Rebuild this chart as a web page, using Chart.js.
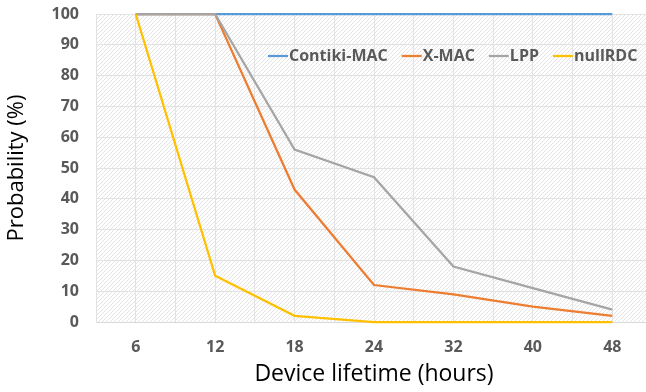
<!DOCTYPE html>
<html>
<head>
<meta charset="utf-8">
<script src="https://cdn.jsdelivr.net/npm/chart.js@4"></script>
<style>
  body { margin:0; background:#fff; overflow:hidden; }
  #wrap { width:660px; height:392px; }
</style>
</head>
<body>
<div id="wrap"><canvas id="chart" width="660" height="392"></canvas></div>
<script>
// data
const lifetimes = ["6","12","18","24","32","40","48"];
const contikiMac = [100,100,100,100,100,100,100];
const xMac = [100,100,43,12,9,5,2];
const lpp = [100,100,56,47,18,11,4];
const nullRdc = [100,15,2,0,0,0,0];
const seriesNames = ["Contiki-MAC","X-MAC","LPP","nullRDC"];
const seriesColors = ["#5B9BD5","#ED7D31","#A5A5A5","#FFC000"];

const FONT = "'Open Sans', 'Liberation Sans', sans-serif";

// light diagonal hatch like the excel plot area
function makeHatch(ctx) {
  const c = document.createElement("canvas");
  c.width = 4; c.height = 4;
  const p = c.getContext("2d");
  p.fillStyle = "#ffffff"; p.fillRect(0,0,4,4);
  p.strokeStyle = "#e4e4e4"; p.lineWidth = 1;
  p.beginPath(); p.moveTo(0,4); p.lineTo(4,0); p.stroke();
  return ctx.createPattern(c, "repeat");
}

const hatchBg = {
  id: "hatchBg",
  beforeDraw(chart) {
    const {ctx, chartArea:a} = chart;
    ctx.save();
    ctx.fillStyle = makeHatch(ctx);
    ctx.fillRect(a.left, a.top, a.right-a.left, a.bottom-a.top);
    ctx.restore();
  }
};

// legend sits inside the plot, top right
const innerLegend = {
  id: "innerLegend",
  afterDraw(chart) {
    const ctx = chart.ctx;
    let x = 268, y = 56;
    ctx.save();
    ctx.font = "bold 16px " + FONT;
    ctx.textBaseline = "middle";
    chart.data.datasets.forEach(ds => {
      ctx.strokeStyle = ds.borderColor; ctx.lineWidth = 2.25;
      ctx.beginPath(); ctx.moveTo(x, y); ctx.lineTo(x+20, y); ctx.stroke();
      ctx.fillStyle = "#595959";
      ctx.fillText(ds.label, x+21, y);
      x += 21 + ctx.measureText(ds.label).width + 14;
    });
    ctx.restore();
  }
};

const allSeries = [contikiMac, xMac, lpp, nullRdc];

new Chart(document.getElementById("chart"), {
  type: "line",
  data: {
    labels: lifetimes,
    datasets: allSeries.map((vals,i)=>({
      label: seriesNames[i],
      data: vals,
      borderColor: seriesColors[i],
      backgroundColor: seriesColors[i],
      borderWidth: 2.25,
      pointRadius: 0,
      tension: 0,
      clip: 4,
      order: allSeries.length - i, // later series drawn on top, like excel
      xAxisID: "x"
    }))
  },
  options: {
    responsive: false,
    animation: false,
    layout: { padding: { top: 14, right: 8, left: 0, bottom: 0 } },
    plugins: { legend: { display: false }, tooltip: { enabled: false } },
    scales: {
      x: {
        type: "category",
        offset: true,
        grid: { offset: true, color: "#e3e3e3", drawTicks: false },
        border: { color: "#d9d9d9" },
        ticks: { color: "#595959", padding: 16, font: { family: FONT, size: 16, weight: "bold" } },
        title: { display: true, text: "Device lifetime (hours)", color: "#000", font: { family: FONT, size: 23 } },
        afterFit(s) { s.height = 70; s.paddingLeft = 0; s.paddingRight = 0; }
      },
      x2: {
        type: "category",
        labels: lifetimes,
        offset: true,
        position: "bottom",
        grid: { offset: false, color: "#e3e3e3", drawTicks: false },
        border: { display: false },
        ticks: { display: false },
        afterFit(s) { s.height = 0; }
      },
      y: {
        min: 0, max: 100,
        grid: { color: "#e3e3e3", drawTicks: false },
        border: { color: "#e3e3e3" },
        ticks: { stepSize: 10, color: "#595959", padding: 17, font: { family: FONT, size: 16, weight: "bold" } },
        title: { display: true, text: "Probability (%)", color: "#000", font: { family: FONT, size: 22 } },
        afterFit(s) { s.width = 96; s.paddingTop = 0; s.paddingBottom = 0; }
      }
    }
  },
  plugins: [hatchBg, innerLegend]
});
</script>
</body>
</html>
